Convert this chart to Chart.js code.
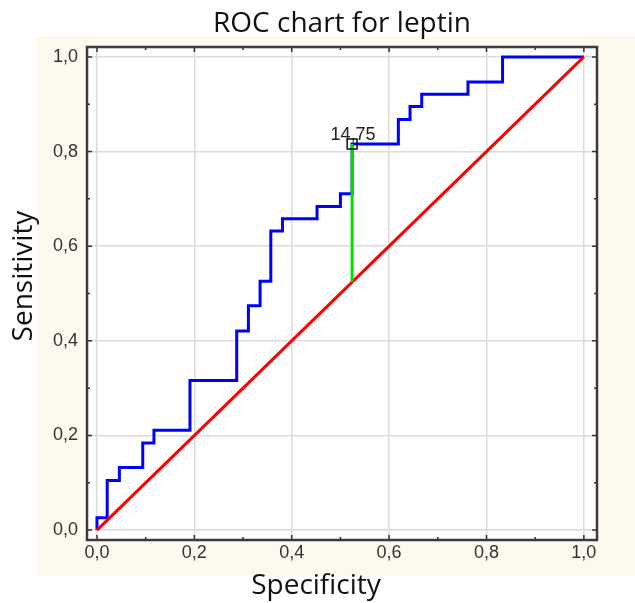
<!DOCTYPE html>
<html>
<head>
<meta charset="utf-8">
<script src="https://cdn.jsdelivr.net/npm/chart.js@4"></script>
<style>
  body { margin: 0; background: #ffffff; }
</style>
</head>
<body>
<canvas id="roc_chart" width="635" height="603"></canvas>
<script>
// ROC curve corner points (stepped: vertical first, then horizontal)
const rocX = [0, 0.021, 0.046, 0.094, 0.117, 0.191, 0.287, 0.311, 0.335, 0.357, 0.381, 0.452, 0.500, 0.524, 0.619, 0.643, 0.667, 0.762, 0.833, 1.0];
const rocY = [0, 0.026, 0.105, 0.132, 0.184, 0.211, 0.316, 0.421, 0.474, 0.526, 0.632, 0.658, 0.684, 0.711, 0.816, 0.868, 0.895, 0.921, 0.947, 1.0];

const diagX = [0, 1];
const diagY = [0, 1];

// cut-off point
const cutX = 0.524;
const cutY = 0.816;
const cutLabel = "14,75";

const tickValues = [0, 0.2, 0.4, 0.6, 0.8, 1.0];
const tickLabels = ["0,0", "0,2", "0,4", "0,6", "0,8", "1,0"];
const minorTicks = [0, 0.1, 0.2, 0.3, 0.4, 0.5, 0.6, 0.7, 0.8, 0.9, 1.0];

const titleText = "ROC chart for leptin";
const xTitle = "Specificity";
const yTitle = "Sensitivity";

const tickFont = { family: "'Liberation Sans', Arial", size: 18 };

const fundo = {
    id: "fundo",
    beforeDraw(chart) {
        const ctx = chart.ctx;
        const a = chart.chartArea;
        ctx.save();
        ctx.fillStyle = "#fef9ee";
        ctx.fillRect(36, 36, 599, 540);
        ctx.fillStyle = "#ffffff";
        ctx.fillRect(a.left, a.top, a.right - a.left, a.bottom - a.top);
        ctx.restore();
    },
    afterDraw(chart) {
        const ctx = chart.ctx;
        const a = chart.chartArea;
        const sx = chart.scales.x;
        const sy = chart.scales.y;
        ctx.save();
        // inward ticks
        ctx.strokeStyle = "#333333";
        ctx.lineWidth = 1.5;
        ctx.beginPath();
        for (const v of minorTicks) {
            const len = tickValues.includes(v) ? 5 : 3;
            const px = sx.getPixelForValue(v);
            ctx.moveTo(px, a.bottom); ctx.lineTo(px, a.bottom - len);
            ctx.moveTo(px, a.top); ctx.lineTo(px, a.top + len);
            const py = sy.getPixelForValue(v);
            ctx.moveTo(a.left, py); ctx.lineTo(a.left + len, py);
            ctx.moveTo(a.right, py); ctx.lineTo(a.right - len, py);
        }
        ctx.stroke();
        // frame
        ctx.strokeStyle = "#3a3a3a";
        ctx.lineWidth = 2.5;
        ctx.strokeRect(a.left, a.top, a.right - a.left, a.bottom - a.top);

        // cut-off label
        ctx.fillStyle = "#222222";
        ctx.font = "18px 'Liberation Sans', Arial";
        ctx.textAlign = "center";
        ctx.textBaseline = "alphabetic";
        ctx.fillText(cutLabel, sx.getPixelForValue(cutX) + 1, sy.getPixelForValue(cutY) - 4);

        // titles
        ctx.fillStyle = "#111111";
        ctx.font = "28px 'Open Sans'";
        ctx.textBaseline = "middle";
        ctx.fillText(titleText, 342, 24);
        ctx.fillText(xTitle, 316, 586);
        ctx.translate(24, 276);
        ctx.rotate(-Math.PI / 2);
        ctx.fillText(yTitle, 0, 0);
        ctx.restore();
    }
};

const pontos = (xs, ys) => xs.map((x, i) => ({ x: x, y: ys[i] }));

const roc_chart = new Chart(document.getElementById("roc_chart"), {
    type: "scatter",
    data: {
        datasets: [
            {
                label: "cut-off",
                data: [{ x: cutX, y: cutY }],
                pointStyle: "rect",
                pointRadius: 7,
                backgroundColor: "rgba(0,0,0,0)",
                borderColor: "#111111",
                borderWidth: 1.5,
                order: 0
            },
            {
                label: "Youden",
                data: [{ x: cutX, y: cutX }, { x: cutX, y: cutY }],
                showLine: true,
                borderColor: "#00e000",
                borderWidth: 3,
                pointRadius: 0,
                order: 1
            },
            {
                label: "ROC",
                data: pontos(rocX, rocY),
                showLine: true,
                stepped: "after",
                borderColor: "#0000ff",
                borderWidth: 3,
                pointRadius: 0,
                order: 3
            },
            {
                label: "Reference",
                data: pontos(diagX, diagY),
                showLine: true,
                borderColor: "#ff0000",
                borderWidth: 3,
                pointRadius: 0,
                order: 2
            }
        ]
    },
    options: {
        responsive: false,
        animation: false,
        layout: { padding: { top: 47, right: 38, left: 0, bottom: 0 } },
        plugins: {
            legend: { display: false },
            tooltip: { enabled: false },
            title: { display: false }
        },
        scales: {
            x: {
                type: "linear",
                min: -0.0205,
                max: 1.027,
                afterBuildTicks: (s) => { s.ticks = tickValues.map(v => ({ value: v })); },
                afterFit: (s) => { s.height = 63; },
                ticks: {
                    callback: (v, i) => tickLabels[i],
                    font: tickFont,
                    color: "#333333",
                    padding: 2,
                    maxRotation: 0,
                    autoSkip: false
                },
                grid: { color: "#dcdcdc", lineWidth: 1.5, drawTicks: false },
                border: { display: false }
            },
            y: {
                type: "linear",
                min: -0.021,
                max: 1.021,
                afterBuildTicks: (s) => { s.ticks = tickValues.map(v => ({ value: v })); },
                afterFit: (s) => { s.width = 87; },
                ticks: {
                    callback: (v, i) => tickLabels[i],
                    font: tickFont,
                    color: "#333333",
                    padding: 9,
                    autoSkip: false
                },
                grid: { color: "#dcdcdc", lineWidth: 1.5, drawTicks: false },
                border: { display: false }
            }
        }
    },
    plugins: [fundo]
});
</script>
</body>
</html>
